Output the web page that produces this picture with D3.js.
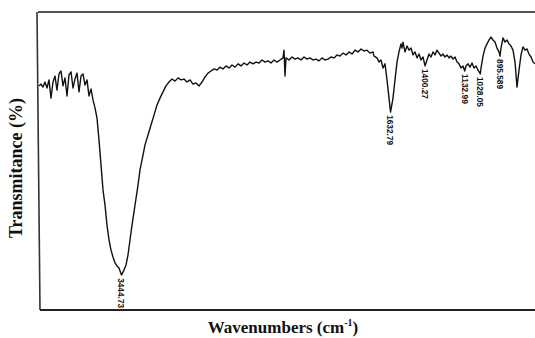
<!DOCTYPE html>
<html>
<head>
<meta charset="utf-8">
<script src="https://cdn.jsdelivr.net/npm/d3@7"></script>
<style>
  html, body { margin: 0; padding: 0; background: #fff; }
  #ir-chart { width: 535px; height: 338px; }
</style>
</head>
<body>
<div id="ir-chart"></div>
<script>
// Spectrum (wavenumber in cm-1, transmittance in %)
const wavenumbers = [
  4000, 3986.5, 3973, 3959.6, 3946.1, 3932.6, 3919.2, 3905.7, 3892.2, 3878.8,
  3865.3, 3851.8, 3838.4, 3824.9, 3811.4, 3798, 3784.5, 3771, 3757.6, 3744.1,
  3730.6, 3717.2, 3703.7, 3690.2, 3676.7, 3663.3, 3649.8, 3636.3, 3622.9, 3609.4,
  3595.9, 3582.5, 3569, 3555.5, 3542.1, 3528.6, 3515.1, 3501.7, 3488.2, 3474.7,
  3461.3, 3444.73, 3427.6, 3414.1, 3400.6, 3387.2, 3373.7, 3353.5, 3333.3, 3319.9,
  3306.4, 3286.2, 3266, 3245.8, 3225.6, 3205.4, 3185.2, 3165, 3144.8, 3124.6,
  3104.4, 3084.2, 3064, 3043.8, 3023.5, 3003.3, 2983.1, 2962.9, 2942.7, 2922.5,
  2902.3, 2882.1, 2861.9, 2841.7, 2821.5, 2801.3, 2781.1, 2760.9, 2740.7, 2720.5,
  2700.3, 2680.1, 2659.9, 2639.7, 2619.5, 2599.3, 2579.1, 2558.9, 2538.7, 2518.5,
  2498.3, 2478.1, 2457.9, 2437.7, 2417.5, 2397.3, 2377.1, 2356.9, 2350.1, 2343.4,
  2336.7, 2316.5, 2296.3, 2276.1, 2255.9, 2235.7, 2215.5, 2195.3, 2175.1, 2154.9,
  2134.7, 2114.5, 2094.3, 2074.1, 2053.9, 2033.7, 2013.4, 1993.2, 1973, 1952.8,
  1932.6, 1912.4, 1892.2, 1872, 1851.8, 1831.6, 1811.4, 1791.2, 1771, 1750.8,
  1744.1, 1723.9, 1710.4, 1697, 1683.5, 1670, 1656.6, 1643.1, 1632.79, 1616.2,
  1602.7, 1589.2, 1575.8, 1562.3, 1555.6, 1548.8, 1535.4, 1521.9, 1508.4, 1495,
  1481.5, 1468, 1454.6, 1441.1, 1427.6, 1414.2, 1400.27, 1387.2, 1373.8, 1360.3,
  1346.8, 1333.4, 1319.9, 1306.4, 1293, 1279.5, 1266, 1252.5, 1239.1, 1225.6,
  1212.1, 1198.7, 1185.2, 1171.7, 1158.3, 1144.8, 1132.99, 1124.6, 1111.1, 1097.7,
  1084.2, 1070.7, 1057.2, 1043.8, 1028.05, 1023.6, 1010.1, 996.6, 983.2, 969.7,
  956.2, 942.8, 929.3, 915.8, 902.4, 895.589, 888.9, 875.4, 862, 848.5,
  835, 821.6, 808.1, 794.6, 781.2, 767.7, 754.2, 740.8, 727.3, 713.8,
  700.4, 686.9, 673.4, 660
];

const transmittance = [
  75.2, 75.8, 74.8, 76.5, 74.5, 77.2, 71.1, 76.5, 78.5, 73.8,
  79.2, 80.2, 75.2, 77.9, 71.8, 78.9, 79.9, 74.5, 77.5, 79.5,
  73.2, 78.5, 79.2, 75.5, 77.2, 71.8, 74.2, 70.5, 67.8, 64.4,
  57, 48.7, 40.3, 35.2, 28.5, 23.5, 20.1, 17.8, 15.8, 14.8,
  14.1, 11.7, 13.4, 15.1, 18.5, 23.5, 28.5, 35.2, 41.9, 47,
  50.3, 55.4, 58.7, 62.1, 65.4, 68.8, 71.1, 73.2, 75.2, 76.5,
  77.5, 76.8, 77.9, 77.2, 77.5, 76.5, 77.2, 75.8, 76.2, 75.2,
  76.5, 78.2, 79.5, 80.2, 80.9, 80.5, 81.5, 80.9, 81.9, 81.2,
  82.2, 81.5, 82.6, 81.9, 82.9, 82.2, 83.2, 82.6, 83.2, 82.9,
  83.9, 83.2, 83.6, 82.9, 83.9, 83.2, 83.9, 84.6, 87.2, 78.5,
  84.6, 83.9, 84.9, 84.2, 84.6, 83.9, 84.9, 84.2, 84.6, 83.9,
  84.2, 83.6, 84.6, 83.9, 84.2, 84.9, 84.6, 85.6, 85.2, 86.2,
  85.6, 86.6, 85.9, 87.2, 86.6, 87.6, 86.9, 87.2, 86.2, 86.6,
  85.2, 84.6, 83.2, 83.9, 81.2, 82.6, 77.2, 71.1, 66.4, 71.1,
  77.2, 83.2, 86.6, 89.3, 87.9, 89.9, 86.6, 88.6, 87.2, 87.9,
  85.6, 86.6, 84.6, 85.9, 83.9, 84.9, 81.9, 83.9, 85.9, 84.9,
  86.6, 85.6, 87.2, 86.2, 85.2, 85.9, 84.9, 85.6, 84.6, 85.2,
  84.2, 84.9, 83.2, 82.6, 81.2, 81.9, 80.2, 81.9, 82.6, 81.5,
  82.9, 81.2, 81.9, 80.5, 79.2, 81.2, 85.2, 87.9, 89.3, 90.6,
  91.6, 90.6, 89.9, 87.9, 86.6, 85.2, 87.9, 91.3, 89.9, 90.6,
  89.3, 88.6, 87.2, 83.2, 74.8, 80.5, 85.6, 88.3, 87.2, 87.6,
  85.9, 84.9, 83.2, 82.6
];

// Labelled absorption bands
const peakWavenumbers = [3444.73, 1632.79, 1400.27, 1132.99, 1028.05, 895.589];
const peakLabels = ["3444.73", "1632.79", "1400.27", "1132.99", "1028.05", "895.589"];

const xTitle = "Wavenumbers (cm";
const yTitle = "Transmitance (%)";

const spectrum = wavenumbers.map((w, i) => ({ wn: w, t: transmittance[i] }));
const peaks = peakWavenumbers.map((w, i) => ({
  wn: w,
  label: peakLabels[i],
  t: transmittance[wavenumbers.indexOf(w)],
}));

// Set up dimensions
let container = d3.select("#ir-chart");
let width = 535;
let height = 338;
let margin = { top: 12, right: 0, bottom: 28, left: 38 };

// Set up scales
let xScale = d3
  .scaleLinear()
  .domain([4000, 660])
  .range([margin.left + 1, width]);

let yScale = d3
  .scaleLinear()
  .domain([0, 100])
  .range([height - margin.bottom, margin.top]);

let line = d3
  .line()
  .x((d) => xScale(d.wn))
  .y((d) => yScale(d.t));

const svg = container
  .append("svg")
  .attr("width", width)
  .attr("height", height);

// Draw frame (left, top and bottom edges; right edge runs off the picture)
const frame = svg.append("g").attr("class", "frame").attr("fill", "none");
frame
  .append("path")
  .attr("stroke", "#555")
  .attr("stroke-width", 2)
  .attr("d", `M${width + 2},${margin.top}H${margin.left}`);
frame
  .append("path")
  .attr("stroke", "#333")
  .attr("stroke-width", 1.6)
  .attr("d", `M${margin.left - 1},${margin.top}L${margin.left + 2},${height - margin.bottom}`);
frame
  .append("path")
  .attr("stroke", "#222")
  .attr("stroke-width", 2)
  .attr("d", `M${margin.left + 2},${height - margin.bottom}H${width + 2}`);

// Draw spectrum
svg
  .append("path")
  .datum(spectrum)
  .attr("fill", "none")
  .attr("stroke", "#111")
  .attr("stroke-width", 1.4)
  .attr("stroke-linejoin", "round")
  .attr("d", line);

// Draw peak labels
svg
  .append("g")
  .attr("class", "peak-labels")
  .selectAll("text")
  .data(peaks)
  .join("text")
  .attr("transform", (d) => `translate(${xScale(d.wn)},${yScale(d.t) + 3}) rotate(90)`)
  .attr("dy", "0.35em")
  .attr("font-family", "'Liberation Sans Narrow', 'Liberation Sans', Arial, sans-serif")
  .attr("font-size", 9)
  .attr("font-weight", "bold")
  .attr("textLength", 30)
  .attr("lengthAdjust", "spacingAndGlyphs")
  .attr("fill", "#111")
  .text((d) => d.label);

// Draw y axis title
svg
  .append("text")
  .attr("transform", `translate(22,${168}) rotate(-90)`)
  .attr("text-anchor", "middle")
  .attr("font-family", "'Liberation Serif', 'Times New Roman', serif")
  .attr("font-weight", "bold")
  .attr("font-size", 18)
  .attr("fill", "#111")
  .text(yTitle);

// Draw x axis title
const xTitleText = svg
  .append("text")
  .attr("x", 283)
  .attr("y", 333)
  .attr("text-anchor", "middle")
  .attr("font-family", "'Liberation Serif', 'Times New Roman', serif")
  .attr("font-weight", "bold")
  .attr("font-size", 17)
  .attr("fill", "#111");
xTitleText.append("tspan").text(xTitle);
xTitleText
  .append("tspan")
  .attr("dy", -7)
  .attr("font-size", 10)
  .text("-1");
xTitleText.append("tspan").attr("dy", 7).text(")");
</script>
</body>
</html>
